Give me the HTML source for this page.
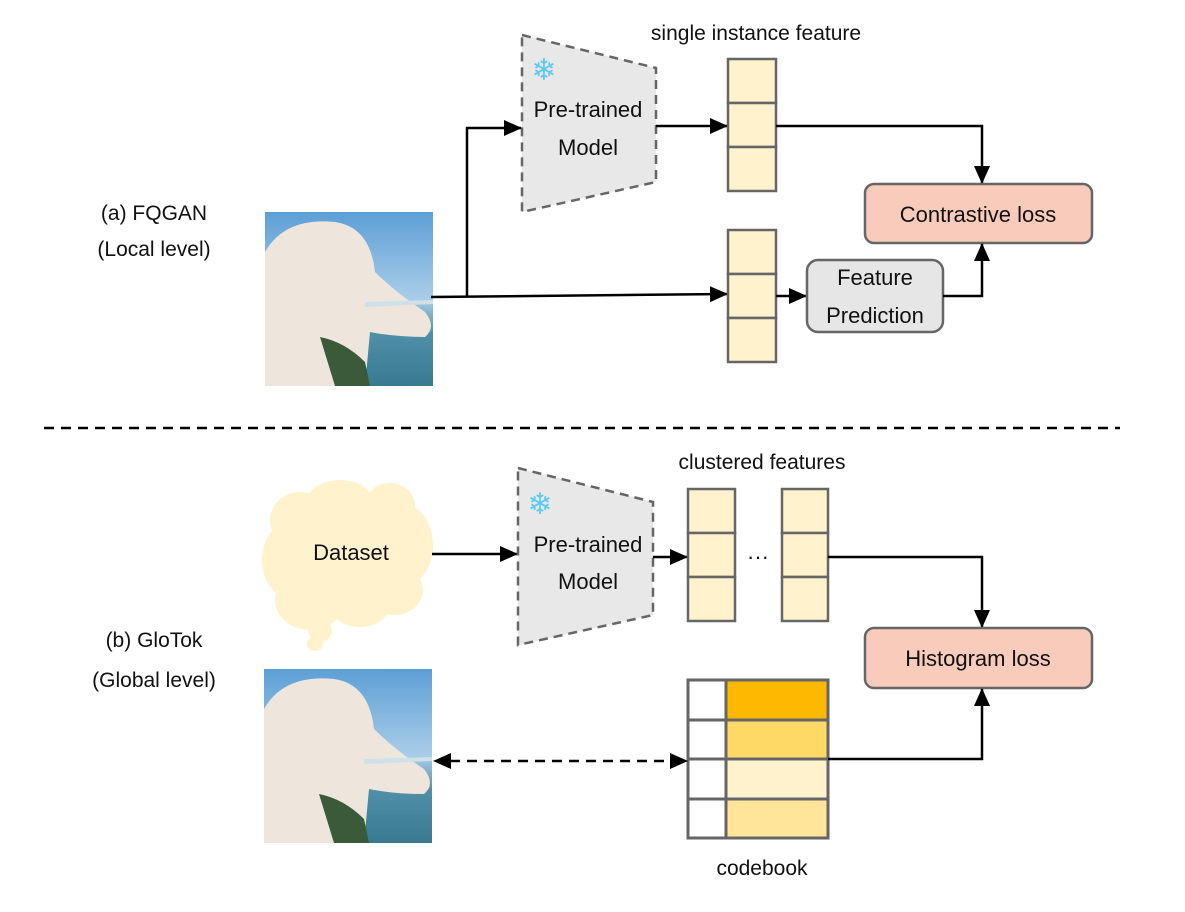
<!DOCTYPE html>
<html><head><meta charset="utf-8"><style>
html,body{margin:0;padding:0;background:#fff}
svg{display:block}
text{font-family:"Liberation Sans",Arial,sans-serif;fill:#111}
</style></head><body>
<svg width="1185" height="912" viewBox="0 0 1185 912" xmlns="http://www.w3.org/2000/svg">
<defs>
<marker id="ah2" markerWidth="18" markerHeight="16" refX="17" refY="8" orient="auto" markerUnits="userSpaceOnUse">
<path d="M0,0 L18,8 L0,16 z" fill="#000"/></marker>
<linearGradient id="sky" x1="0" y1="0" x2="0" y2="1">
<stop offset="0" stop-color="#5d9fd6"/><stop offset="0.5" stop-color="#a9cde8"/><stop offset="0.7" stop-color="#4f8fa8"/><stop offset="1" stop-color="#3a7a90"/></linearGradient>
<g id="dog">
<rect x="0" y="0" width="168" height="174" fill="url(#sky)"/>
<path d="M0,174 L0,40 Q20,5 70,10 Q105,15 110,60 Q130,80 160,100 Q172,115 160,125 Q130,125 105,120 L100,174 Z" fill="#eee6dc"/>
<path d="M55,125 Q80,130 100,150 L105,174 L70,174 Z" fill="#3b5a3a"/>
<path d="M100,90 L168,88 L168,92 L100,95Z" fill="#cfe0ea"/>
</g>
</defs>

<text x="154" y="220" font-size="21" text-anchor="middle">(a) FQGAN</text>
<text x="154" y="256" font-size="21" text-anchor="middle">(Local level)</text>
<text x="154" y="647" font-size="21" text-anchor="middle">(b) GloTok</text>
<text x="154" y="687" font-size="21" text-anchor="middle">(Global level)</text>

<use href="#dog" x="265" y="212"/>
<polygon points="522,35 656,68 656,182 522,212" fill="#e8e8e8" stroke="#666" stroke-width="2.5" stroke-dasharray="9,6"/>
<text x="544" y="80" font-size="30" text-anchor="middle" style="fill:#5bc8f5">❄</text>
<text x="588" y="117" font-size="22" text-anchor="middle">Pre-trained</text>
<text x="588" y="155" font-size="22" text-anchor="middle">Model</text>
<text x="756" y="40" font-size="21" text-anchor="middle">single instance feature</text>

<line x1="431" y1="297" x2="727" y2="294" stroke="#000" stroke-width="2.5" marker-end="url(#ah2)"/>
<polyline points="467,297 467,128 521,128" fill="none" stroke="#000" stroke-width="2.5" marker-end="url(#ah2)"/>
<line x1="656" y1="126" x2="727" y2="126" stroke="#000" stroke-width="2.5" marker-end="url(#ah2)"/>

<g fill="#fff2cc" stroke="#666" stroke-width="2.5">
<rect x="728" y="59" width="48" height="44"/><rect x="728" y="103" width="48" height="44"/><rect x="728" y="147" width="48" height="44"/>
<rect x="728" y="230" width="48" height="44"/><rect x="728" y="274" width="48" height="44"/><rect x="728" y="318" width="48" height="44"/>
</g>
<polyline points="776,126 982,126 982,183" fill="none" stroke="#000" stroke-width="2.5" marker-end="url(#ah2)"/>
<rect x="865" y="184" width="227" height="59" rx="9" fill="#f9cbbb" stroke="#666" stroke-width="2.5"/>
<text x="978" y="222" font-size="22" text-anchor="middle">Contrastive loss</text>
<line x1="776" y1="296" x2="806" y2="296" stroke="#000" stroke-width="2.5" marker-end="url(#ah2)"/>
<rect x="807" y="260" width="136" height="72" rx="11" fill="#e6e6e6" stroke="#666" stroke-width="2.5"/>
<text x="875" y="285" font-size="22" text-anchor="middle">Feature</text>
<text x="875" y="323" font-size="22" text-anchor="middle">Prediction</text>
<polyline points="943,296 982,296 982,244" fill="none" stroke="#000" stroke-width="2.5" marker-end="url(#ah2)"/>

<line x1="44" y1="428" x2="1120" y2="428" stroke="#000" stroke-width="2.5" stroke-dasharray="10,7"/>

<g fill="#fff2cc">
<ellipse cx="300" cy="520" rx="30" ry="28"/><ellipse cx="340" cy="505" rx="35" ry="25"/><ellipse cx="390" cy="505" rx="25" ry="22"/>
<ellipse cx="405" cy="545" rx="28" ry="40"/><ellipse cx="290" cy="560" rx="28" ry="38"/><ellipse cx="350" cy="555" rx="65" ry="50"/>
<ellipse cx="310" cy="600" rx="35" ry="30"/><ellipse cx="360" cy="605" rx="30" ry="22"/><ellipse cx="395" cy="590" rx="28" ry="25"/>
<ellipse cx="320" cy="630" rx="12" ry="12"/><ellipse cx="315" cy="644" rx="8" ry="7"/>
</g>
<text x="351" y="560" font-size="22" text-anchor="middle">Dataset</text>
<line x1="432" y1="554" x2="517" y2="554" stroke="#000" stroke-width="2.5" marker-end="url(#ah2)"/>
<polygon points="518,468 653,502 653,615 518,645" fill="#e8e8e8" stroke="#666" stroke-width="2.5" stroke-dasharray="9,6"/>
<text x="540" y="514" font-size="30" text-anchor="middle" style="fill:#5bc8f5">❄</text>
<text x="588" y="552" font-size="22" text-anchor="middle">Pre-trained</text>
<text x="588" y="589" font-size="22" text-anchor="middle">Model</text>
<text x="762" y="469" font-size="21" text-anchor="middle">clustered features</text>
<line x1="653" y1="557" x2="687" y2="557" stroke="#000" stroke-width="2.5" marker-end="url(#ah2)"/>
<g fill="#fff2cc" stroke="#666" stroke-width="2.5">
<rect x="688" y="489" width="47" height="44"/><rect x="688" y="533" width="47" height="44"/><rect x="688" y="577" width="47" height="44"/>
<rect x="782" y="489" width="46" height="44"/><rect x="782" y="533" width="46" height="44"/><rect x="782" y="577" width="46" height="44"/>
</g>
<text x="758" y="564" font-size="22" text-anchor="middle">···</text>
<polyline points="828,557 982,557 982,627" fill="none" stroke="#000" stroke-width="2.5" marker-end="url(#ah2)"/>
<rect x="865" y="628" width="227" height="60" rx="9" fill="#f9cbbb" stroke="#666" stroke-width="2.5"/>
<text x="978" y="666" font-size="22" text-anchor="middle">Histogram loss</text>

<g stroke="#666" stroke-width="3">
<rect x="688" y="680" width="38" height="40" fill="#fff"/><rect x="726" y="680" width="102" height="40" fill="#ffb800"/>
<rect x="688" y="720" width="38" height="39" fill="#fff"/><rect x="726" y="720" width="102" height="39" fill="#ffd966"/>
<rect x="688" y="759" width="38" height="40" fill="#fff"/><rect x="726" y="759" width="102" height="40" fill="#fff2cc"/>
<rect x="688" y="799" width="38" height="39" fill="#fff"/><rect x="726" y="799" width="102" height="39" fill="#ffe599"/>
</g>
<polyline points="828,759 982,759 982,689" fill="none" stroke="#000" stroke-width="2.5" marker-end="url(#ah2)"/>
<text x="762" y="875" font-size="21" text-anchor="middle">codebook</text>

<use href="#dog" x="264" y="669"/>
<line x1="450" y1="761" x2="671" y2="761" stroke="#000" stroke-width="2.5" stroke-dasharray="10,7"/>
<path d="M433,761 L451,753 L451,769 Z" fill="#000"/>
<path d="M688,761 L670,753 L670,769 Z" fill="#000"/>
</svg>
</body></html>
